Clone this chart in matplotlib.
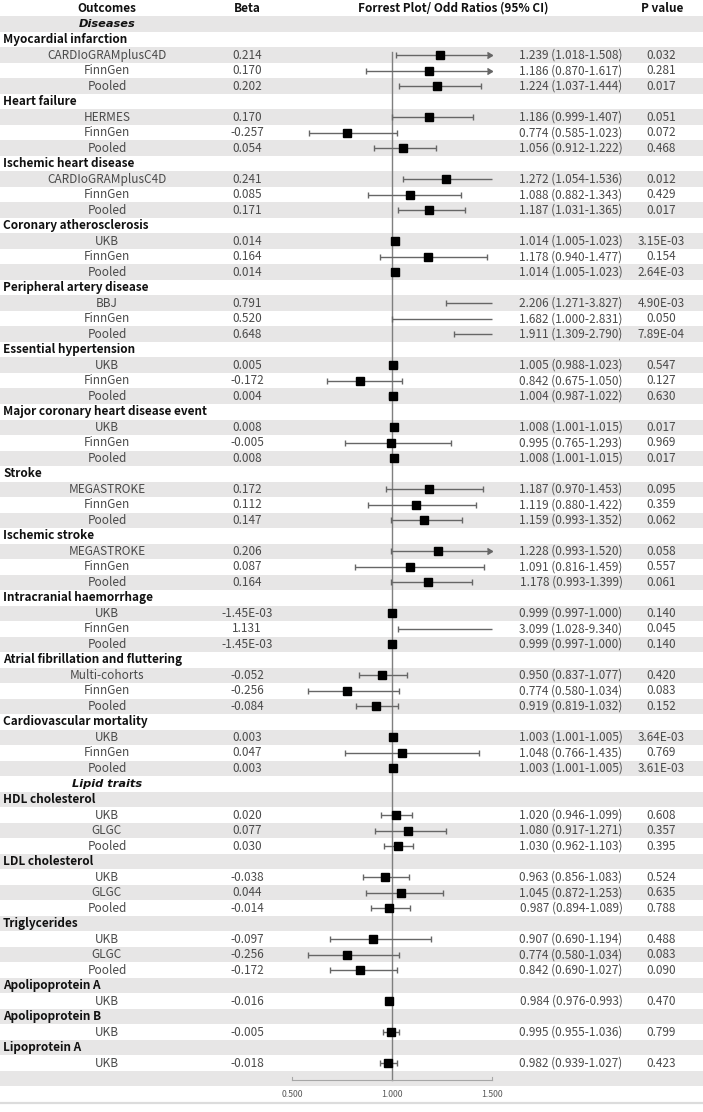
import numpy as np
import matplotlib
matplotlib.use("Agg")
import matplotlib.pyplot as plt
from matplotlib.transforms import blended_transform_factory

plt.rcParams['font.family'] = ['Noto Sans CJK SC', 'DejaVu Sans']

# ---- data ----
sections = ["Diseases", "Lipid traits"]
section_first_group = [0, 12]

outcome_groups = [
    "Myocardial infarction", "Heart failure", "Ischemic heart disease",
    "Coronary atherosclerosis", "Peripheral artery disease", "Essential hypertension",
    "Major coronary heart disease event", "Stroke", "Ischemic stroke",
    "Intracranial haemorrhage", "Atrial fibrillation and fluttering",
    "Cardiovascular mortality",
    "HDL cholesterol", "LDL cholesterol", "Triglycerides",
    "Apolipoprotein A", "Apolipoprotein B", "Lipoprotein A",
]
group_sizes = [3, 3, 3, 3, 3, 3, 3, 3, 3, 3, 3, 3, 3, 3, 3, 1, 1, 1]

cohorts = [
    "CARDIoGRAMplusC4D", "FinnGen", "Pooled",
    "HERMES", "FinnGen", "Pooled",
    "CARDIoGRAMplusC4D", "FinnGen", "Pooled",
    "UKB", "FinnGen", "Pooled",
    "BBJ", "FinnGen", "Pooled",
    "UKB", "FinnGen", "Pooled",
    "UKB", "FinnGen", "Pooled",
    "MEGASTROKE", "FinnGen", "Pooled",
    "MEGASTROKE", "FinnGen", "Pooled",
    "UKB", "FinnGen", "Pooled",
    "Multi-cohorts", "FinnGen", "Pooled",
    "UKB", "FinnGen", "Pooled",
    "UKB", "GLGC", "Pooled",
    "UKB", "GLGC", "Pooled",
    "UKB", "GLGC", "Pooled",
    "UKB", "UKB", "UKB",
]
beta = [
    "0.214", "0.170", "0.202",
    "0.170", "-0.257", "0.054",
    "0.241", "0.085", "0.171",
    "0.014", "0.164", "0.014",
    "0.791", "0.520", "0.648",
    "0.005", "-0.172", "0.004",
    "0.008", "-0.005", "0.008",
    "0.172", "0.112", "0.147",
    "0.206", "0.087", "0.164",
    "-1.45E-03", "1.131", "-1.45E-03",
    "-0.052", "-0.256", "-0.084",
    "0.003", "0.047", "0.003",
    "0.020", "0.077", "0.030",
    "-0.038", "0.044", "-0.014",
    "-0.097", "-0.256", "-0.172",
    "-0.016", "-0.005", "-0.018",
]
odds = [
    1.239, 1.186, 1.224,
    1.186, 0.774, 1.056,
    1.272, 1.088, 1.187,
    1.014, 1.178, 1.014,
    2.206, 1.682, 1.911,
    1.005, 0.842, 1.004,
    1.008, 0.995, 1.008,
    1.187, 1.119, 1.159,
    1.228, 1.091, 1.178,
    0.999, 3.099, 0.999,
    0.950, 0.774, 0.919,
    1.003, 1.048, 1.003,
    1.020, 1.080, 1.030,
    0.963, 1.045, 0.987,
    0.907, 0.774, 0.842,
    0.984, 0.995, 0.982,
]
ci_low = [
    1.018, 0.870, 1.037,
    0.999, 0.585, 0.912,
    1.054, 0.882, 1.031,
    1.005, 0.940, 1.005,
    1.271, 1.000, 1.309,
    0.988, 0.675, 0.987,
    1.001, 0.765, 1.001,
    0.970, 0.880, 0.993,
    0.993, 0.816, 0.993,
    0.997, 1.028, 0.997,
    0.837, 0.580, 0.819,
    1.001, 0.766, 1.001,
    0.946, 0.917, 0.962,
    0.856, 0.872, 0.894,
    0.690, 0.580, 0.690,
    0.976, 0.955, 0.939,
]
ci_high = [
    1.508, 1.617, 1.444,
    1.407, 1.023, 1.222,
    1.536, 1.343, 1.365,
    1.023, 1.477, 1.023,
    3.827, 2.831, 2.790,
    1.023, 1.050, 1.022,
    1.015, 1.293, 1.015,
    1.453, 1.422, 1.352,
    1.520, 1.459, 1.399,
    1.000, 9.340, 1.000,
    1.077, 1.034, 1.032,
    1.005, 1.435, 1.005,
    1.099, 1.271, 1.103,
    1.083, 1.253, 1.089,
    1.194, 1.034, 1.027,
    0.993, 1.036, 1.027,
]
p_values = [
    "0.032", "0.281", "0.017",
    "0.051", "0.072", "0.468",
    "0.012", "0.429", "0.017",
    "3.15E-03", "0.154", "2.64E-03",
    "4.90E-03", "0.050", "7.89E-04",
    "0.547", "0.127", "0.630",
    "0.017", "0.969", "0.017",
    "0.095", "0.359", "0.062",
    "0.058", "0.557", "0.061",
    "0.140", "0.045", "0.140",
    "0.420", "0.083", "0.152",
    "3.64E-03", "0.769", "3.61E-03",
    "0.608", "0.357", "0.395",
    "0.524", "0.635", "0.788",
    "0.488", "0.083", "0.090",
    "0.470", "0.799", "0.423",
]
# clipped rows that the original draws with an arrow head
arrow_rows = [0, 1, 24]
x_ticks = [0.5, 1.0, 1.5]

# ---- layout ----
W, H = 703, 1112
X_MAX = 1.5
X_MIN = 0.5
ROW0 = 8.5      # px centre of header row
ROW_H = 15.51   # px per row
GREY = "#e7e6e6"
TXT = "#4a4a4a"
DARK = "#111111"


def px(x):
    return x / W


fig = plt.figure(figsize=(W / 100, H / 100), dpi=100)
ax = fig.add_axes([0, 0, 1, 1])
# 1.0 sits at x=392px, 200px per unit of OR
ax.set_xlim(1 + (0 - 392) / 200, 1 + (W - 392) / 200)
ax.set_ylim((H - ROW0) / ROW_H, -ROW0 / ROW_H)
ax.axis("off")
tr = blended_transform_factory(ax.transAxes, ax.transData)

fs = 8.5
hd = dict(transform=tr, ha="center", va="center", fontsize=fs, fontweight="bold", color=DARK)
# header
ax.text(px(107), 0, "Outcomes", **hd)
ax.text(px(247), 0, "Beta", **hd)
ax.text(px(453), 0, "Forrest Plot/ Odd Ratios (95% CI)", **hd)
ax.text(px(662), 0, "P value", **hd)

row = 1
k = 0
data_rows = []
for g, name in enumerate(outcome_groups):
    if g in section_first_group:
        ax.text(px(107), row, sections[section_first_group.index(g)], transform=tr,
                ha="center", va="center", fontsize=8.2, fontweight="bold", fontstyle="italic",
                family=["DejaVu Sans"], color=DARK)
        row += 1
    ax.text(px(3), row, name, transform=tr, ha="left", va="center", fontsize=fs,
            fontweight="bold", color=DARK)
    row += 1
    for _ in range(group_sizes[g]):
        data_rows.append(row)
        ax.text(px(107), row, cohorts[k], transform=tr, ha="center", va="center", fontsize=fs,
                color=TXT)
        ax.text(px(247), row, beta[k], transform=tr, ha="center", va="center", fontsize=fs,
                color=TXT)
        ax.text(px(571), row, f"{odds[k]:.3f} ({ci_low[k]:.3f}-{ci_high[k]:.3f})", transform=tr,
                ha="center", va="center", fontsize=fs, color=TXT)
        ax.text(px(661), row, p_values[k], transform=tr, ha="center", va="center", fontsize=fs,
                color=TXT)
        row += 1
        k += 1

blank_row = row
axis_row = row + 1

# alternating bands
for r in range(1, axis_row, 2):
    ax.axhspan(r - 0.5, r + 0.5, color=GREY, lw=0, zorder=0)

# reference line at OR = 1
ax.plot([1, 1], [2.8, blank_row + 0.1], color="#7f7f7f", lw=1.0, zorder=2)

# forest marks
line_c = "#666666"
for i, r in enumerate(data_rows):
    lo = max(ci_low[i], X_MIN)
    hi = min(ci_high[i], X_MAX)
    ax.plot([lo, hi], [r, r], color=line_c, lw=1.0, zorder=3, solid_capstyle="butt")
    if ci_low[i] >= X_MIN:
        ax.plot(lo, r, marker="|", ms=5, mew=1.0, color=line_c, zorder=3)
    if ci_high[i] <= X_MAX:
        ax.plot(hi, r, marker="|", ms=5, mew=1.0, color=line_c, zorder=3)
    elif i in arrow_rows:
        ax.plot(X_MAX, r, marker=5, ms=4.5, color=line_c, zorder=3)
    if odds[i] <= X_MAX:
        ax.plot(odds[i], r, marker="s", ms=5.8, color="black", zorder=4, lw=0)

# bottom axis
ay = blank_row + 0.1
ax.plot([x_ticks[0], x_ticks[-1]], [ay, ay], color="#a6a6a6", lw=0.8, zorder=2)
for t in (x_ticks[0], x_ticks[-1]):
    ax.plot([t, t], [ay, ay - 0.22], color="#a6a6a6", lw=0.8, zorder=2)
for t in x_ticks:
    ax.text(t, axis_row, f"{t:.3f}", ha="center", va="center", fontsize=6.3,
            color="#595959")

ax.axhline(axis_row + 0.57, color="#dcdcdc", lw=1.6, zorder=1)

fig.savefig("out.png", dpi=100)
